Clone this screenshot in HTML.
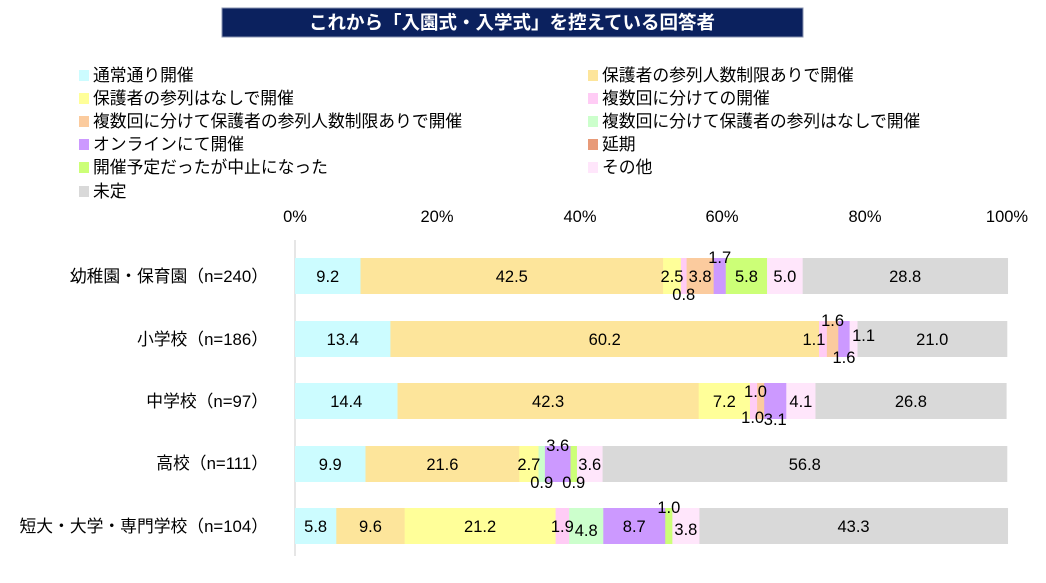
<!DOCTYPE html>
<html><head><meta charset="utf-8"><style>
body{margin:0;background:#fff;width:1046px;height:578px;overflow:hidden}
text{font-family:"Liberation Sans","Noto Sans CJK JP",sans-serif}
</style></head><body>
<svg id="s" width="1046" height="578" xmlns="http://www.w3.org/2000/svg">
<rect x="222" y="8" width="581" height="29" fill="#0b215e" stroke="#8a94b0"/>
<text x="512" y="29" fill="#fff" font-size="18.5" font-weight="bold" text-anchor="middle">これから「入園式・入学式」を控えている回答者</text>
<g font-size="16.8" fill="#000">
<rect x="79" y="70" width="10" height="11" fill="#ccfcff"/><text x="93" y="81">通常通り開催</text>
<rect x="79" y="93" width="10" height="11" fill="#ffff99"/><text x="93" y="104">保護者の参列はなしで開催</text>
<rect x="79" y="116" width="10" height="11" fill="#fbcb9e"/><text x="93" y="127">複数回に分けて保護者の参列人数制限ありで開催</text>
<rect x="79" y="139" width="10" height="11" fill="#cc99ff"/><text x="93" y="150">オンラインにて開催</text>
<rect x="79" y="162" width="10" height="11" fill="#ccff77"/><text x="93" y="173">開催予定だったが中止になった</text>
<rect x="79" y="186" width="10" height="11" fill="#d9d9d9"/><text x="93" y="197">未定</text>
<rect x="588" y="70" width="10" height="11" fill="#fde59b"/><text x="602" y="81">保護者の参列人数制限ありで開催</text>
<rect x="588" y="93" width="10" height="11" fill="#ffccf5"/><text x="602" y="104">複数回に分けての開催</text>
<rect x="588" y="116" width="10" height="11" fill="#ccffcc"/><text x="602" y="127">複数回に分けて保護者の参列はなしで開催</text>
<rect x="588" y="139" width="10" height="11" fill="#e89a78"/><text x="602" y="150">延期</text>
<rect x="588" y="162" width="10" height="11" fill="#ffe6fb"/><text x="602" y="173">その他</text>
</g>
<g font-size="16.5" text-anchor="middle">
<text x="295" y="222">0%</text><text x="437" y="222">20%</text><text x="580" y="222">40%</text><text x="722" y="222">60%</text><text x="865" y="222">80%</text><text x="1007" y="222">100%</text>
</g>
<line x1="295" y1="240" x2="295" y2="556" stroke="#ccc"/>
<g font-size="16.8" text-anchor="end">
<text x="268" y="282">幼稚園・保育園（n=240）</text>
<text x="268" y="345">小学校（n=186）</text>
<text x="268" y="407">中学校（n=97）</text>
<text x="268" y="469">高校（n=111）</text>
<text x="268" y="532">短大・大学・専門学校（n=104）</text>
</g>
<g id="bars"></g>
</svg>
<script>
const C={a:"#ccfcff",b:"#fde59b",c:"#ffff99",d:"#ffccf5",e:"#fbcb9e",f:"#ccffcc",g:"#cc99ff",i:"#ccff77",j:"#ffe6fb",k:"#d9d9d9"};
const rows=[
[258,[["a",9.2,""],["b",42.5,""],["c",2.5,"r"],["d",0.8,"b"],["e",3.8,""],["g",1.7,"t"],["i",5.8,""],["j",5.0,""],["k",28.8,""]]],
[321,[["a",13.4,""],["b",60.2,""],["c",0,"x"],["d",1.1,"r2"],["e",1.6,"t"],["g",1.6,"b"],["j",1.1,"rr"],["k",21.0,""]]],
[383,[["a",14.4,""],["b",42.3,""],["c",7.2,""],["d",1.0,"tr"],["e",1.0,"bl"],["g",3.1,"b"],["j",4.1,""],["k",26.8,""]]],
[446,[["a",9.9,""],["b",21.6,""],["c",2.7,""],["f",0.9,"b"],["g",3.6,"t"],["i",0.9,"b"],["j",3.6,""],["k",56.8,""]]],
[508,[["a",5.8,""],["b",9.6,""],["c",21.2,""],["d",1.9,""],["f",4.8,"bb"],["g",8.7,""],["i",1.0,"t"],["j",3.8,"lb"],["k",43.3,""]]]];
let h="";const X=v=>295+v*7.12;
for(const [y,segs] of rows){let acc=0;
 for(const [k,v,p] of segs){const x0=X(acc),w=v*7.12;acc+=v;
  if(w>0)h+=`<rect x="${x0}" y="${y}" width="${w+0.3}" height="36" fill="${C[k]}"/>`;}
 acc=0;
 for(const [k,v,p] of segs){let cx=X(acc+v/2);acc+=v;let ty=y+24;
  if(p=="x")continue;
  if(p=="t")ty=y+5;else if(p=="b")ty=y+42;else if(p=="bb"){ty=y+28;}
  else if(p=="tr"){ty=y+14;cx+=2}else if(p=="bl"){ty=y+40;cx-=8}else if(p=="lb"){ty=y+27;}
  else if(p=="r2"){cx-=9}else if(p=="rr"){cx+=10;ty=y+20}
  h+=`<text x="${cx}" y="${ty}" font-size="16.5" text-anchor="middle">${v.toFixed(1)}</text>`;}
}
document.getElementById("bars").innerHTML=h;
</script>
</body></html>
